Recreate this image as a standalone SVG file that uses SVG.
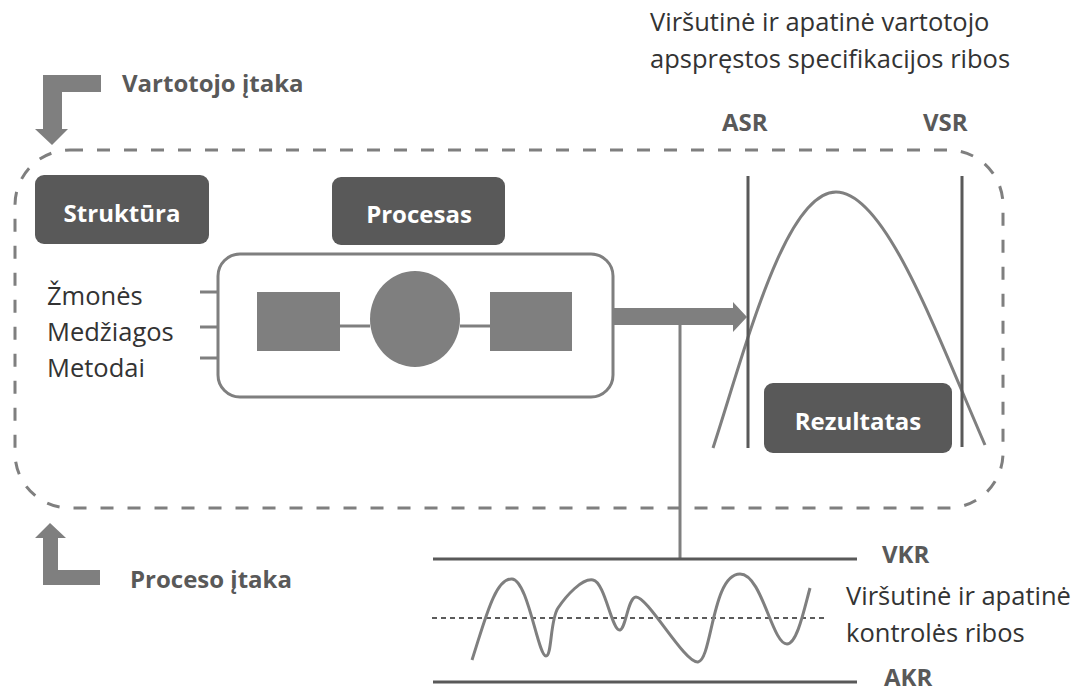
<svg xmlns="http://www.w3.org/2000/svg" width="1075" height="693" viewBox="0 0 1075 693">
<style>
text{font-family:"Open Sans","Noto Sans","Liberation Sans",sans-serif;}
.box{fill:#595959;}
.boxt{fill:#ffffff;font-weight:bold;font-size:24px;text-anchor:middle;}
.lbl{fill:#595959;font-weight:bold;font-size:24px;}
.txt{fill:#333333;font-size:25.5px;}
.gl{stroke:#7f7f7f;stroke-width:3;fill:none;}
.dl{stroke:#595959;stroke-width:3;fill:none;}
.shape{fill:#7f7f7f;}
</style>
<rect id="boundary" x="15" y="150" width="988" height="358" rx="55" ry="55" fill="none" stroke="#7f7f7f" stroke-width="3" stroke-dasharray="13 14"/>
<g id="vartotojo-itaka">
<polygon class="shape" points="101,75 43,75 43,129 35,129 52,145 68,129 62,129 62,92 101,92"/>
<text class="lbl" x="122" y="92">Vartotojo įtaka</text>
</g>
<g id="proceso-itaka">
<polygon class="shape" points="50,523 66,538 58,538 58,570 100,570 100,585 43,585 43,538 35,538"/>
<text class="lbl" x="130" y="588">Proceso įtaka</text>
</g>
<g id="top-label">
<text class="txt" x="650" y="31" fill="#404040">Viršutinė ir apatinė vartotojo</text>
<text class="txt" x="650" y="68" fill="#404040">apspręstos specifikacijos ribos</text>
</g>
<g id="struktura">
<rect class="box" x="35" y="175" width="174" height="69" rx="9"/>
<text class="boxt" x="122" y="222">Struktūra</text>
</g>
<g id="procesas">
<rect class="box" x="332" y="177" width="173" height="68" rx="9"/>
<text class="boxt" x="419" y="223">Procesas</text>
</g>
<g id="inputs">
<text class="txt" x="47" y="305">Žmonės</text>
<text class="txt" x="47" y="341">Medžiagos</text>
<text class="txt" x="47" y="377">Metodai</text>
</g>
<g id="process">
<rect x="218" y="254" width="395" height="143" rx="22" class="gl"/>
<rect class="shape" x="257" y="292" width="83" height="59"/>
<ellipse class="shape" cx="415" cy="319" rx="45" ry="48"/>
<rect class="shape" x="490" y="292" width="82" height="59"/>
</g>
<g id="connectors">
<line class="gl" x1="200" y1="292" x2="218" y2="292"/>
<line class="gl" x1="200" y1="327" x2="218" y2="327"/>
<line class="gl" x1="200" y1="358" x2="218" y2="358"/>
<line class="gl" x1="340" y1="326" x2="370" y2="326"/>
<line class="gl" x1="460" y1="326" x2="490" y2="326"/>
<polygon class="shape" points="613,308 733,308 733,302 747,317 733,332 733,325 613,325"/>
<line class="gl" x1="680" y1="325" x2="680" y2="559"/>
</g>
<g id="specification">
<path class="gl" d="M713,448 C745,350 785,192 836,192 C885,192 935,330 985,445"/>
<line class="dl" x1="748" y1="176" x2="748" y2="448"/>
<line class="dl" x1="962" y1="176" x2="962" y2="447"/>
<text class="lbl" x="722" y="131">ASR</text>
<text class="lbl" x="923" y="131">VSR</text>
</g>
<g id="rezultatas">
<rect class="box" x="764" y="383" width="188" height="70" rx="9"/>
<text class="boxt" x="858" y="430">Rezultatas</text>
</g>
<g id="control-chart">
<line class="dl" x1="433" y1="559" x2="857" y2="559"/>
<line class="dl" x1="433" y1="682" x2="857" y2="682"/>
<line x1="432" y1="618" x2="827" y2="618" stroke="#262626" stroke-width="1.5" stroke-dasharray="5 4"/>
<path class="gl" d="M472,660 C485,620 495,578 512,579 C528,580 538,656 546,656 C552,656 550,620 558,608 C566,596 582,578 593,580 C605,582 612,632 620,630 C626,628 628,597 636,597 C648,597 685,664 698,662 C712,660 712,574 740,574 C762,574 772,644 787,644 C797,644 804,610 810,588"/>
<text class="lbl" x="884" y="686">AKR</text>
<text class="lbl" x="882" y="563">VKR</text>
<text class="txt" x="846" y="605" fill="#404040">Viršutinė ir apatinė</text>
<text class="txt" x="846" y="642" fill="#404040">kontrolės ribos</text>
</g>
</svg>
